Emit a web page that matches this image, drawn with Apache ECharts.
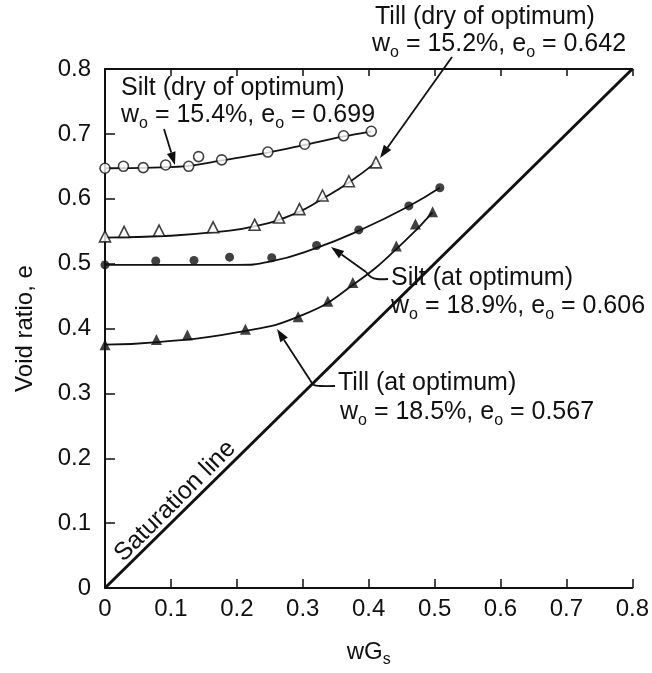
<!DOCTYPE html>
<html>
<head>
<meta charset="utf-8">
<script src="https://cdn.jsdelivr.net/npm/echarts@6/dist/echarts.min.js"></script>
<style>
html,body{margin:0;padding:0;background:#fff;}
#chart{width:652px;height:673px;}
</style>
</head>
<body>
<div id="chart"></div>
<script>
// ---- data (wGs, void ratio e) ----
const siltDryW = [0, 0.028, 0.058, 0.092, 0.127, 0.142, 0.177, 0.247, 0.303, 0.362, 0.404];
const siltDryE = [0.647, 0.650, 0.648, 0.652, 0.650, 0.665, 0.660, 0.672, 0.684, 0.697, 0.704];
const siltDryCurveW = [0, 0.120, 0.177, 0.247, 0.303, 0.362, 0.404];
const siltDryCurveE = [0.647, 0.650, 0.659, 0.671, 0.683, 0.696, 0.704];

const tillDryW = [0, 0.029, 0.082, 0.164, 0.227, 0.264, 0.295, 0.330, 0.370, 0.411];
const tillDryE = [0.542, 0.549, 0.551, 0.556, 0.560, 0.571, 0.584, 0.605, 0.627, 0.656];
const tillDryCurveW = [0, 0.100, 0.170, 0.230, 0.290, 0.330, 0.370, 0.411];
const tillDryCurveE = [0.540, 0.543, 0.549, 0.558, 0.578, 0.600, 0.625, 0.656];

const siltOptW = [0, 0.077, 0.135, 0.189, 0.253, 0.321, 0.385, 0.461, 0.508];
const siltOptE = [0.498, 0.504, 0.505, 0.510, 0.509, 0.528, 0.552, 0.589, 0.617];
const siltOptCurveW = [0, 0.200, 0.250, 0.320, 0.390, 0.460, 0.508];
const siltOptCurveE = [0.498, 0.498, 0.503, 0.524, 0.553, 0.588, 0.617];

const tillOptW = [0, 0.078, 0.125, 0.213, 0.293, 0.338, 0.376, 0.442, 0.471, 0.497];
const tillOptE = [0.375, 0.383, 0.390, 0.399, 0.418, 0.442, 0.471, 0.527, 0.561, 0.580];
const tillOptCurveW = [0, 0.080, 0.200, 0.300, 0.380, 0.450, 0.497];
const tillOptCurveE = [0.375, 0.379, 0.394, 0.421, 0.470, 0.530, 0.579];

const satW = [0, 0.8];
const satE = [0, 0.8];

const axisMin = 0, axisMax = 0.8, axisStep = 0.1;

// ---- helpers ----
const FF = '"Liberation Sans", Arial, Helvetica, sans-serif';
const zip = (a, b) => a.map((v, i) => [v, b[i]]);

const chart = echarts.init(document.getElementById('chart'), null, {renderer: 'canvas'});

const subRich = {
  n: {fontSize: 25, fontFamily: FF, color: '#111', lineHeight: 28},
  s: {fontSize: 16, fontFamily: FF, color: '#111', lineHeight: 16, verticalAlign: 'bottom', padding: [0, 0, -3, 0]}
};

function lineSeries(w, e, width, smooth) {
  return {
    type: 'line', data: zip(w, e), symbol: 'none', smooth: smooth,
    lineStyle: {color: '#111', width: width}, z: 2, silent: true, animation: false
  };
}
function markerSeries(w, e, symbol, size, filled) {
  return {
    type: 'scatter', data: zip(w, e), symbol: symbol, symbolSize: size, clip: false,
    itemStyle: {color: filled ? '#111' : '#fff', borderColor: '#111', borderWidth: filled ? 0 : 1.6},
    z: 4, animation: false
  };
}

const tickLabel = v => (Math.abs(v) < 1e-9 ? '0' : v.toFixed(1));

chart.setOption({
  animation: false,
  backgroundColor: '#fff',
  grid: {left: 105, right: 19, top: 69, bottom: 78},
  xAxis: [{
    type: 'value', min: axisMin, max: axisMax, interval: axisStep, position: 'bottom',
    axisLine: {show: true, onZero: false, lineStyle: {color: '#111', width: 2}},
    axisTick: {show: true, inside: true, length: 9, lineStyle: {color: '#111', width: 1.5}},
    axisLabel: {fontSize: 24, fontFamily: FF, color: '#111', margin: 9, formatter: tickLabel},
    splitLine: {show: false},
    name: 'wG{s|s}', nameLocation: 'middle', nameGap: 52,
    nameTextStyle: {fontSize: 24, fontFamily: FF, color: '#111',
      rich: {s: {fontSize: 16, fontFamily: FF, color: '#111', verticalAlign: 'bottom', padding: [0, 0, -4, 0]}}}
  }, {
    type: 'value', min: axisMin, max: axisMax, interval: axisStep, position: 'top',
    axisLine: {show: true, onZero: false, lineStyle: {color: '#111', width: 2}},
    axisTick: {show: true, inside: true, length: 7, lineStyle: {color: '#111', width: 1.5}},
    axisLabel: {show: false}, splitLine: {show: false}
  }],
  yAxis: [{
    type: 'value', min: axisMin, max: axisMax, interval: axisStep,
    axisLine: {show: true, onZero: false, lineStyle: {color: '#111', width: 2}},
    axisTick: {show: true, inside: true, length: 10, lineStyle: {color: '#111', width: 1.5}},
    axisLabel: {fontSize: 24, fontFamily: FF, color: '#111', margin: 14, formatter: tickLabel},
    splitLine: {show: false},
    name: 'Void ratio, e', nameLocation: 'middle', nameGap: 68, nameRotate: 90,
    nameTextStyle: {fontSize: 24, fontFamily: FF, color: '#111'}
  }],
  series: [
    lineSeries(satW, satE, 3, false),
    lineSeries(siltDryCurveW, siltDryCurveE, 1.8, 0.3),
    lineSeries(tillDryCurveW, tillDryCurveE, 1.8, 0.5),
    lineSeries(siltOptCurveW, siltOptCurveE, 1.8, 0.5),
    lineSeries(tillOptCurveW, tillOptCurveE, 1.8, 0.5),
    markerSeries(siltDryW, siltDryE, 'circle', 10, false),
    markerSeries(tillDryW, tillDryE, 'triangle', 11, false),
    markerSeries(siltOptW, siltOptE, 'circle', 9, true),
    markerSeries(tillOptW, tillOptE, 'triangle', 11, true)
  ]
});

// ---- annotations ----
function arrow(x1, y1, x2, y2) {
  const a = Math.atan2(y2 - y1, x2 - x1);
  const L = 13, W = 4.5;
  const bx = x2 - L * Math.cos(a), by = y2 - L * Math.sin(a);
  const px = -Math.sin(a), py = Math.cos(a);
  return [
    {type: 'line', shape: {x1: x1, y1: y1, x2: bx, y2: by}, style: {stroke: '#111', lineWidth: 1.8}, z: 10},
    {type: 'polygon', shape: {points: [[x2, y2], [bx + W * px, by + W * py], [bx - W * px, by - W * py]]}, style: {fill: '#111'}, z: 10}
  ];
}
function leader(points) {
  return {type: 'polyline', shape: {points: points, smooth: 0.4}, style: {stroke: '#111', lineWidth: 1.8, fill: null}, z: 10};
}
function label(x, baseline, text) {
  return {
    type: 'text', x: x, y: baseline - 9, z: 10,
    style: {text: text, rich: subRich, fontSize: 25, fontFamily: FF, fill: '#111', align: 'left', verticalAlign: 'middle'}
  };
}

const satP = chart.convertToPixel({gridIndex: 0}, [0.12, 0.12]);

const graphics = [].concat(
  label(121, 97, '{n|Silt (dry of optimum)}'),
  label(121, 124, '{n|w}{s|o}{n| = 15.4%, e}{s|o}{n| = 0.699}'),
  arrow(164, 129, 175, 165),

  label(375, 26, '{n|Till (dry of optimum)}'),
  label(372, 53, '{n|w}{s|o}{n| = 15.2%, e}{s|o}{n| = 0.642}'),
  arrow(452, 57, 380, 158),

  label(391, 287, '{n|Silt (at optimum)}'),
  label(391, 315, '{n|w}{s|o}{n| = 18.9%, e}{s|o}{n| = 0.606}'),
  arrow(366, 272, 331, 247),
  leader([[366, 272], [371, 277], [377, 279], [388, 279]]),

  label(338, 392, '{n|Till (at optimum)}'),
  label(340, 421, '{n|w}{s|o}{n| = 18.5%, e}{s|o}{n| = 0.567}'),
  arrow(310, 380, 277, 329),
  leader([[310, 380], [314, 385], [320, 386], [335, 386]]),

  [{
    type: 'text', x: satP[0] - 9, y: satP[1] - 9, rotation: Math.PI / 4, z: 10,
    style: {text: 'Saturation line', fontSize: 25, fontFamily: FF, fill: '#111', align: 'center', verticalAlign: 'middle'}
  }]
);

chart.setOption({graphic: {elements: graphics}});
</script>
</body>
</html>
